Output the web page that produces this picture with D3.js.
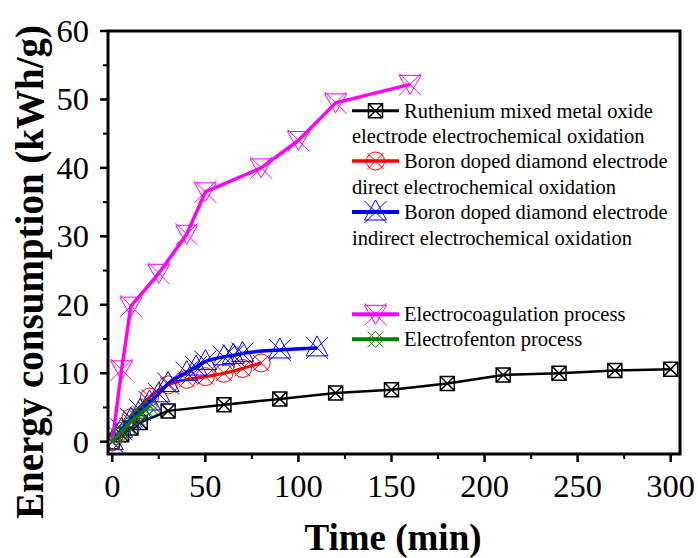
<!DOCTYPE html>
<html>
<head>
<meta charset="utf-8">
<script src="https://cdn.jsdelivr.net/npm/d3@7"></script>
<style>
  body { margin: 0; background: #fff; }
  svg text { font-family: "Liberation Serif", "Times New Roman", serif; }
</style>
</head>
<body>
<div id="chart"></div>
<script>
// time (min) and energy consumption (kWh/g)
const rutheniumT = [0, 5, 10, 15, 30, 60, 90, 120, 150, 180, 210, 240, 270, 300];
const rutheniumV = [0, 1.0, 2.0, 2.8, 4.5, 5.4, 6.25, 7.1, 7.6, 8.5, 9.75, 10.0, 10.4, 10.6];

const bddDirectT = [0, 5, 10, 20, 30, 40, 50, 60, 70, 80];
const bddDirectV = [0, 1.5, 3.5, 6.5, 8.3, 9.1, 9.5, 10.0, 10.7, 11.5];

const bddIndirectT = [0, 5, 10, 15, 20, 25, 30, 40, 45, 50, 60, 65, 70, 90, 110];
const bddIndirectV = [0, 1.8, 3.3, 4.6, 5.8, 7.0, 8.5, 10.1, 10.9, 11.7, 12.4, 12.6, 12.9, 13.4, 13.7];

const coagT = [0, 5, 10, 25, 40, 50, 80, 100, 120, 160];
const coagV = [0, 10.5, 19.8, 24.6, 30.3, 36.5, 40.0, 44.0, 49.5, 52.2];

const fentonT = [0, 3, 5, 8, 10, 13, 15, 18, 20];
const fentonV = [0, 0.9, 1.5, 2.3, 2.9, 3.6, 4.1, 4.7, 5.2];

const xTicks = [0, 50, 100, 150, 200, 250, 300];
const yTicks = [0, 10, 20, 30, 40, 50, 60];

const series = [
  { name: ["Ruthenium mixed metal oxide", "electrode electrochemical oxidation"], t: rutheniumT, v: rutheniumV, color: "#000000", marker: "squareX", curve: d3.curveLinear, lw: 2.5 },
  { name: ["Boron doped diamond electrode", "direct electrochemical oxidation"], t: bddDirectT, v: bddDirectV, color: "#ff0000", marker: "circleX", curve: d3.curveMonotoneX, lw: 3 },
  { name: ["Boron doped diamond electrode", "indirect electrochemical oxidation"], t: bddIndirectT, v: bddIndirectV, color: "#0000ff", marker: "triUpX", curve: d3.curveMonotoneX, lw: 3.5 },
  { name: ["Electrocoagulation process"], t: coagT, v: coagV, color: "#ff00ff", marker: "triDownX", curve: d3.curveLinear, lw: 3.5 },
  { name: ["Electrofenton process"], t: fentonT, v: fentonV, color: "#008000", marker: "diamondX", curve: d3.curveMonotoneX, lw: 3.5 }
];

const width = 698, height = 558;
const plot = { left: 108, right: 680, top: 31, bottom: 454 };

const svg = d3.select("#chart").append("svg")
  .attr("width", width).attr("height", height);

const x = d3.scaleLinear().domain([-2.3, 305]).range([plot.left, plot.right]);
const y = d3.scaleLinear().domain([-1.8, 60]).range([plot.bottom, plot.top]);

// markers as path strings around (0,0)
function markerPath(type) {
  switch (type) {
    case "squareX": return "M-7,-7H7V7H-7Z M-7,-7L7,7 M7,-7L-7,7";
    case "circleX": return "M9,0A9,9 0 1,1 -9,0A9,9 0 1,1 9,0 M-8,-8L8,8 M8,-8L-8,8";
    case "triUpX": return "M0,-12L11,8H-11Z M-11,-11L11,11 M11,-11L-11,11";
    case "triDownX": return "M0,10L-11,-9H11Z M-11,-11L11,11 M11,-11L-11,11";
    case "diamondX": return "M0,-8L8,0L0,8L-8,0Z M-8,-8L8,8 M8,-8L-8,8";
  }
}

// clip so the lines stay in the frame
svg.append("clipPath").attr("id", "clip").append("rect")
  .attr("x", plot.left).attr("y", plot.top)
  .attr("width", plot.right - plot.left).attr("height", plot.bottom - plot.top);

const g = svg.append("g").attr("clip-path", "url(#clip)");

series.forEach(s => {
  const pts = s.t.map((t, i) => [t, s.v[i]]);
  const line = d3.line().x(d => x(d[0])).y(d => y(d[1])).curve(s.curve);
  g.append("path").datum(pts)
    .attr("fill", "none").attr("stroke", s.color).attr("stroke-width", s.lw)
    .attr("stroke-linejoin", "round").attr("d", line);
  g.selectAll(null).data(pts).enter().append("path")
    .attr("transform", d => `translate(${x(d[0])},${y(d[1])})`)
    .attr("d", markerPath(s.marker))
    .attr("fill", "none")
    .attr("stroke", s.color)
    .attr("stroke-width", s.marker === "squareX" ? 1.5 : 1);
});

// frame
svg.append("rect")
  .attr("x", plot.left).attr("y", plot.top)
  .attr("width", plot.right - plot.left).attr("height", plot.bottom - plot.top)
  .attr("fill", "none").attr("stroke", "#000").attr("stroke-width", 3);

// x axis ticks
const xMinor = d3.range(25, 300, 50);
svg.selectAll(null).data(xTicks).enter().append("line")
  .attr("x1", d => x(d)).attr("x2", d => x(d))
  .attr("y1", plot.bottom).attr("y2", plot.bottom + 8)
  .attr("stroke", "#000").attr("stroke-width", 2.5);
svg.selectAll(null).data(xMinor).enter().append("line")
  .attr("x1", d => x(d)).attr("x2", d => x(d))
  .attr("y1", plot.bottom).attr("y2", plot.bottom + 5)
  .attr("stroke", "#000").attr("stroke-width", 2);
svg.selectAll(null).data(xTicks).enter().append("text")
  .attr("x", d => x(d)).attr("y", 497)
  .attr("text-anchor", "middle").attr("font-size", 32.5)
  .text(d => d);

// y axis ticks
const yMinor = d3.range(5, 60, 10);
svg.selectAll(null).data(yTicks).enter().append("line")
  .attr("x1", plot.left).attr("x2", plot.left - 8)
  .attr("y1", d => y(d)).attr("y2", d => y(d))
  .attr("stroke", "#000").attr("stroke-width", 2.5);
svg.selectAll(null).data(yMinor).enter().append("line")
  .attr("x1", plot.left).attr("x2", plot.left - 5)
  .attr("y1", d => y(d)).attr("y2", d => y(d))
  .attr("stroke", "#000").attr("stroke-width", 2);
svg.selectAll(null).data(yTicks).enter().append("text")
  .attr("x", 89).attr("y", d => y(d) + 11)
  .attr("text-anchor", "end").attr("font-size", 32.5)
  .text(d => d);

// axis titles
svg.append("text")
  .attr("x", 393).attr("y", 550)
  .attr("text-anchor", "middle").attr("font-size", 37).attr("font-weight", "bold")
  .text("Time (min)");
svg.append("text")
  .attr("transform", "translate(43,272) rotate(-90)")
  .attr("text-anchor", "middle").attr("font-size", 39).attr("font-weight", "bold")
  .text("Energy consumption (kWh/g)");

// legend
const legendRows = [110.7, 161, 212, 314.3, 339.3];
const legend = svg.append("g");
series.forEach((s, i) => {
  const ly = legendRows[i];
  legend.append("line")
    .attr("x1", 352).attr("x2", 399).attr("y1", ly).attr("y2", ly)
    .attr("stroke", s.color).attr("stroke-width", s.lw + 0.5);
  legend.append("path")
    .attr("transform", `translate(375.5,${ly})`)
    .attr("d", markerPath(s.marker))
    .attr("fill", "none").attr("stroke", s.color)
    .attr("stroke-width", s.marker === "squareX" ? 1.5 : 1);
  legend.append("text")
    .attr("x", 404).attr("y", ly + 7)
    .attr("font-size", 20.5)
    .text(s.name[0]);
  if (s.name[1]) {
    legend.append("text")
      .attr("x", 352).attr("y", ly + 32.5)
      .attr("font-size", 20.5)
      .text(s.name[1]);
  }
});
</script>
</body>
</html>
